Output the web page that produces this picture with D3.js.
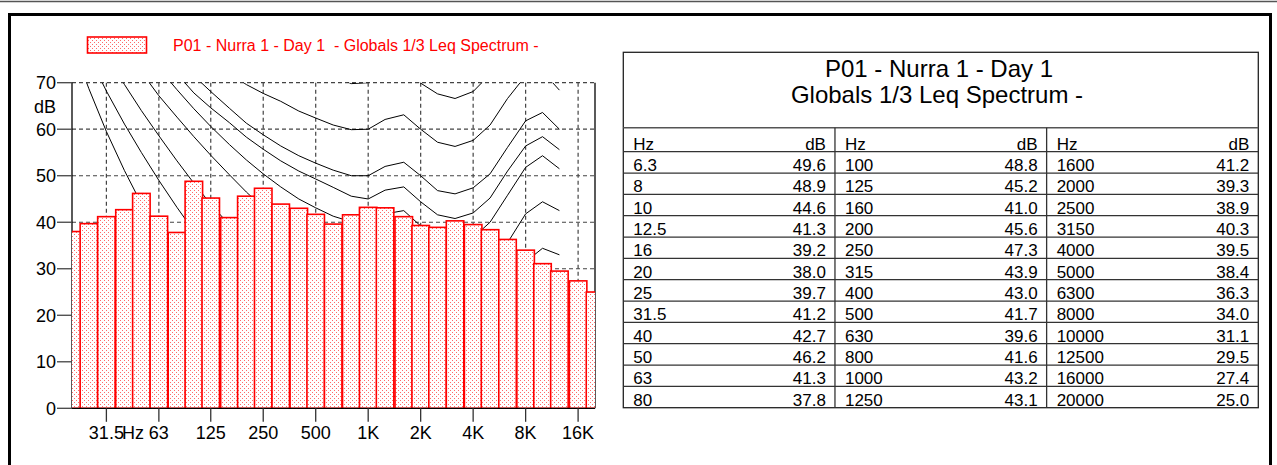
<!DOCTYPE html>
<html><head><meta charset="utf-8">
<script src="https://cdn.jsdelivr.net/npm/d3@7"></script>
<style>
body{margin:0;background:#fff;}
svg{display:block;font-family:Arial,"Liberation Sans",sans-serif;}
</style></head><body>
<svg id="c" width="1277" height="465"></svg>
<script>
// ---------------- data ----------------
const bandLabels = ["6.3","8","10","12.5","16","20","25","31.5","40","50","63","80","100","125","160","200","250","315","400","500","630","800","1000","1250","1600","2000","2500","3150","4000","5000","6300","8000","10000","12500","16000","20000"];
const bandFreqs = [6.3,8,10,12.5,16,20,25,31.5,40,50,63,80,100,125,160,200,250,315,400,500,630,800,1000,1250,1600,2000,2500,3150,4000,5000,6300,8000,10000,12500,16000,20000];
const levels = [49.6,48.9,44.6,41.3,39.2,38.0,39.7,41.2,42.7,46.2,41.3,37.8,48.8,45.2,41.0,45.6,47.3,43.9,43.0,41.7,39.6,41.6,43.2,43.1,41.2,39.3,38.9,40.3,39.5,38.4,36.3,34.0,31.1,29.5,27.4,25.0];
const levelStrings = ["49.6","48.9","44.6","41.3","39.2","38.0","39.7","41.2","42.7","46.2","41.3","37.8","48.8","45.2","41.0","45.6","47.3","43.9","43.0","41.7","39.6","41.6","43.2","43.1","41.2","39.3","38.9","40.3","39.5","38.4","36.3","34.0","31.1","29.5","27.4","25.0"];

const xTickValues = [31.5,63,125,250,500,1000,2000,4000,8000,16000];
const xTickLabels = ["31.5","63","125","250","500","1K","2K","4K","8K","16K"];
const yTickValues = [0,10,20,30,40,50,60,70];

const legendText = "P01 - Nurra 1 - Day 1  - Globals 1/3 Leq Spectrum -";
const tableTitle1 = "P01 - Nurra 1 - Day 1";
const tableTitle2 = "Globals 1/3 Leq Spectrum -";

// equal-loudness contours (dB at band centres)
const contourFreqs = [20,25,31.5,40,50,63,80,100,125,160,200,250,315,400,500,630,800,1000,1250,1600,2000,2500,3150,4000,5000,6300,8000,10000,12500];
const contourT  = [78.5,68.7,59.5,51.1,44.0,37.5,31.5,26.5,22.1,17.9,14.4,11.4,8.6,6.2,4.4,3.0,2.2,2.4,3.5,1.7,-1.3,-4.2,-6.0,-5.4,-1.5,6.0,12.6,13.9,12.3];
const contour10 = [83.8,75.8,68.2,61.1,55.0,49.0,43.2,38.1,33.5,28.8,24.8,21.3,18.1,15.1,13.0,11.2,10.0,10.0,11.3,10.4,7.3,4.5,3.0,3.8,7.5,14.4,21.0,23.4,22.3];
const contour20 = [89.6,82.7,76.0,69.6,64.0,58.6,53.2,48.4,43.9,39.4,35.5,32.0,28.7,25.7,23.4,21.5,20.1,20.0,21.5,21.4,18.2,15.4,14.3,15.1,18.6,25.0,31.5,34.4,33.0];
const contour30 = [94.9,89.2,83.4,77.8,72.3,67.2,62.6,58.4,54.4,50.2,46.5,43.1,39.9,37.0,34.9,33.0,31.5,30.0,31.4,31.9,28.7,25.9,25.0,26.1,29.5,35.6,41.8,44.4,42.5];
const contour40 = [99.9,93.9,88.2,82.6,77.8,73.1,68.5,64.4,60.6,56.7,53.4,50.4,47.6,45.0,43.1,41.3,40.1,40.0,41.8,42.5,39.2,36.5,35.6,36.7,40.0,45.8,51.8,54.3,51.5];
const contour45 = [102.0,96.2,90.6,85.2,80.4,75.8,71.9,67.8,64.6,61.4,58.3,55.7,53.2,51.0,49.3,47.5,45.6,45.0,46.9,47.6,44.4,41.6,40.8,42.0,45.2,51.0,56.4,58.4,55.6];
const contour50 = [104.2,98.5,93.1,87.9,83.1,78.7,74.9,71.5,68.1,64.5,61.3,58.8,56.4,54.3,52.7,51.2,50.0,50.0,52.0,52.9,50.0,46.8,46.1,47.4,50.4,56.1,61.8,63.6,60.0];
const contour60 = [108.2,102.5,97.4,92.4,87.9,83.6,79.6,75.8,72.4,72.1,69.6,67.7,66.0,63.9,62.4,60.9,59.9,60.0,62.1,63.1,60.0,57.2,56.3,57.6,60.9,66.6,71.5,72.4,68.4];
const contour70 = [111.8,106.1,101.6,97.1,92.9,88.9,85.0,81.5,78.2,79.5,77.5,75.7,74.3,73.0,72.1,71.4,69.8,70.0,72.2,73.2,69.9,67.6,66.6,68.1,71.8,77.0,82.0,83.0,78.5];
const contours = [contourT,contour10,contour20,contour30,contour40,contour45,contour50,contour60,contour70];

// ---------------- chart ----------------
const svg = d3.select("#c");
const W = 1277, H = 465;
const plot = {l:72, r:595, t:82.7, b:408.3};

// outer frame
svg.append("line").attr("x1",0).attr("x2",W).attr("y1",1.5).attr("y2",1.5).attr("stroke","#555").attr("stroke-width",1.5);
svg.append("rect").attr("x",9.5).attr("y",14.5).attr("width",1261).attr("height",480)
  .attr("fill","none").attr("stroke","#000").attr("stroke-width",3);

const defs = svg.append("defs");
const pat = defs.append("pattern").attr("id","dots").attr("patternUnits","userSpaceOnUse")
  .attr("width",4).attr("height",4);
pat.append("rect").attr("width",4).attr("height",4).attr("fill","#fff");
pat.append("rect").attr("x",0).attr("y",0).attr("width",1).attr("height",1).attr("fill","#ff6a6a");
pat.append("rect").attr("x",2).attr("y",2).attr("width",1).attr("height",1).attr("fill","#ff6a6a");
defs.append("clipPath").attr("id","plotclip").append("rect")
  .attr("x",plot.l).attr("y",plot.t).attr("width",plot.r-plot.l).attr("height",plot.b-plot.t);

const x = d3.scaleLog().domain([20,20000]).range([plot.l,plot.r]);
const y = d3.scaleLinear().domain([0,70]).range([plot.b,plot.t]);

// grid
const grid = svg.append("g");
grid.selectAll("line.h").data(yTickValues.filter(v=>v>0)).join("line")
  .attr("x1",plot.l).attr("x2",plot.r).attr("y1",d=>y(d)).attr("y2",d=>y(d))
  .attr("stroke","#444").attr("stroke-width",1.2).attr("stroke-dasharray","4,3");
grid.selectAll("line.v").data(xTickValues).join("line")
  .attr("x1",d=>x(d)).attr("x2",d=>x(d)).attr("y1",plot.t).attr("y2",plot.b)
  .attr("stroke","#444").attr("stroke-width",1.2).attr("stroke-dasharray","4,3");

// frame sides (behind bars)
svg.append("line").attr("x1",plot.l).attr("x2",plot.l).attr("y1",plot.t).attr("y2",plot.b).attr("stroke","#000").attr("stroke-width",1.3);
svg.append("line").attr("x1",plot.r).attr("x2",plot.r).attr("y1",plot.t).attr("y2",plot.b).attr("stroke","#000").attr("stroke-width",1.3);

const pg = svg.append("g").attr("clip-path","url(#plotclip)");
// contours
const line = d3.line().x((d,i)=>x(contourFreqs[i])).y(d=>y(d));
pg.selectAll("path.ct").data(contours).join("path")
  .attr("d",d=>line(d)).attr("fill","none").attr("stroke","#000").attr("stroke-width",1);

// bars
const bars = bandFreqs.map((f,i)=>({f,v:levels[i]})).filter(d=>d.f>=20);
const k = Math.pow(2,1/6);
pg.selectAll("rect.bar").data(bars).join("rect")
  .attr("x",d=>x(d.f/k)).attr("width",d=>x(d.f*k)-x(d.f/k))
  .attr("y",d=>y(d.v)).attr("height",d=>y(0)-y(d.v))
  .attr("fill","url(#dots)").attr("stroke","#ff0000").attr("stroke-width",1.6);

// bottom axis
svg.append("line").attr("x1",plot.l).attr("x2",plot.r).attr("y1",plot.b).attr("y2",plot.b).attr("stroke","#000").attr("stroke-width",1.3);
// x ticks
svg.selectAll("line.xt").data(xTickValues).join("line")
  .attr("x1",d=>x(d)).attr("x2",d=>x(d)).attr("y1",plot.b).attr("y2",plot.b+13.5)
  .attr("stroke","#333").attr("stroke-width",1.3);
svg.selectAll("text.xl").data(xTickValues).join("text")
  .attr("x",d=>x(d)).attr("y",439).attr("text-anchor","middle")
  .attr("font-size",18).attr("fill","#000").text((d,i)=>xTickLabels[i]);
svg.append("text").attr("x",122).attr("y",439).attr("font-size",18).attr("fill","#000").text("Hz");
// y ticks
svg.selectAll("line.yt").data(yTickValues).join("line")
  .attr("x1",57).attr("x2",plot.l).attr("y1",d=>y(d)).attr("y2",d=>y(d))
  .attr("stroke","#444").attr("stroke-width",1.3);
svg.selectAll("text.yl").data(yTickValues).join("text")
  .attr("x",56).attr("y",d=>y(d)+6.5).attr("text-anchor","end")
  .attr("font-size",18).attr("fill","#000").text(d=>d);
svg.append("text").attr("x",56).attr("y",113).attr("text-anchor","end").attr("font-size",18).text("dB");

// legend
svg.append("rect").attr("x",87.5).attr("y",37).attr("width",59).attr("height",16)
  .attr("fill","url(#dots)").attr("stroke","#ff0000").attr("stroke-width",1.6);
svg.append("text").attr("x",173).attr("y",50.5).attr("font-size",16).attr("fill","#ff0000")
  .style("white-space","pre").text(legendText);

// ---------------- table ----------------
const tb = {l:623.3, r:1258.3, t:52.3, hTop:127.7, hBot:151.7, b:407.7};
const tg = svg.append("g");
tg.append("rect").attr("x",tb.l).attr("y",tb.t).attr("width",tb.r-tb.l).attr("height",tb.b-tb.t)
  .attr("fill","none").attr("stroke","#222").attr("stroke-width",1.3);
tg.append("text").attr("x",939).attr("y",77).attr("text-anchor","middle").attr("font-size",24).text(tableTitle1);
tg.append("text").attr("x",937).attr("y",103).attr("text-anchor","middle").attr("font-size",24).text(tableTitle2);

const nRows = 12;
const rowY = d3.scaleLinear().domain([0,nRows]).range([tb.hBot,tb.b]);
const colX = d3.scaleLinear().domain([0,3]).range([tb.l,tb.r]);
tg.append("line").attr("x1",tb.l).attr("x2",tb.r).attr("y1",tb.hTop).attr("y2",tb.hTop).attr("stroke","#555").attr("stroke-width",1.6);
tg.selectAll("line.row").data(d3.range(0,nRows)).join("line")
  .attr("x1",tb.l).attr("x2",tb.r).attr("y1",d=>rowY(d)).attr("y2",d=>rowY(d))
  .attr("stroke","#333").attr("stroke-width",1.3);
tg.selectAll("line.col").data([1,2]).join("line")
  .attr("x1",d=>colX(d)).attr("x2",d=>colX(d)).attr("y1",tb.hTop).attr("y2",tb.b)
  .attr("stroke","#333").attr("stroke-width",1.3);
[0,1,2].forEach(c=>{
  tg.append("text").attr("x",colX(c)+10).attr("y",tb.hBot-2).attr("font-size",17).text("Hz");
  tg.append("text").attr("x",colX(c+1)-9).attr("y",tb.hBot-2).attr("text-anchor","end").attr("font-size",17).text("dB");
});
const cells = bandLabels.map((lab,i)=>({lab,val:levelStrings[i],c:Math.floor(i/nRows),r:i%nRows}));
tg.selectAll("text.hz").data(cells).join("text")
  .attr("x",d=>colX(d.c)+10).attr("y",d=>rowY(d.r+1)-2).attr("font-size",17).text(d=>d.lab);
tg.selectAll("text.db").data(cells).join("text")
  .attr("x",d=>colX(d.c+1)-9).attr("y",d=>rowY(d.r+1)-2).attr("text-anchor","end").attr("font-size",17).text(d=>d.val);
</script>
</body></html>
